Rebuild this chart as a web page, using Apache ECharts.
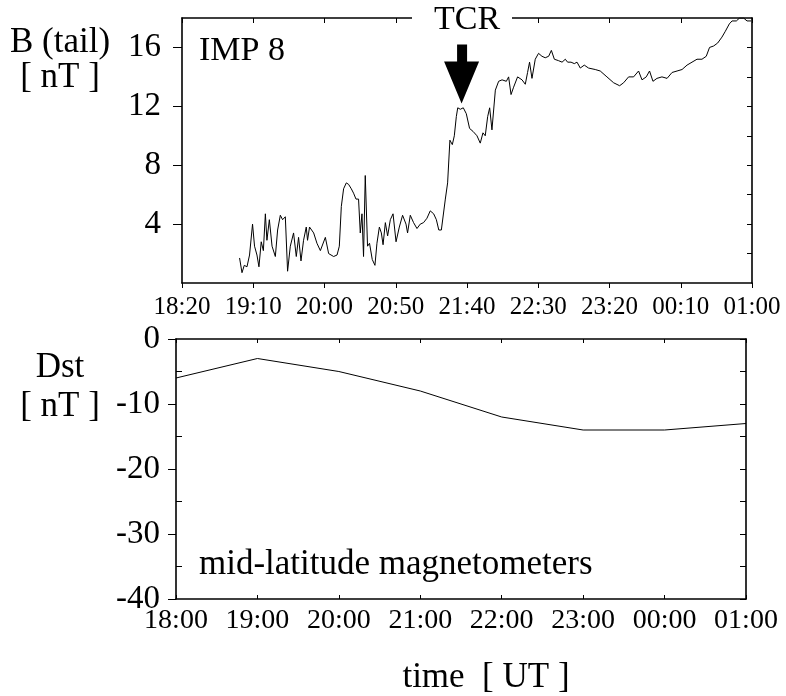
<!DOCTYPE html>
<html>
<head>
<meta charset="utf-8">
<script src="https://cdn.jsdelivr.net/npm/echarts@6/dist/echarts.min.js"></script>
<style>
  html, body { margin: 0; padding: 0; background: #fff; }
  #chart { width: 786px; height: 696px; }
</style>
</head>
<body>
<div id="chart"></div>
<script>
// IMP 8 tail field: time in minutes after 18:00 UT, B in nT
const bTime = [
  60.4, 62.1, 63.7, 65.6, 67.4, 69.5, 70.9, 72.6, 74.0, 75.6,
  77.1, 78.5, 79.6, 81.3, 83.2, 85.5, 87.1, 89.0, 90.6, 92.5,
  94.1, 96.0, 98.3, 100.2, 101.8, 103.5, 105.3, 107.2, 108.1, 109.5,
  112.4, 114.7, 117.1, 120.6, 122.9, 126.4, 128.8, 130.4, 131.8, 133.4,
  135.3, 136.9, 138.8, 140.4, 142.1, 143.9, 145.1, 146.3, 147.4, 148.6,
  150.2, 151.6, 153.5, 155.4, 156.8, 158.5, 159.9, 161.1, 162.7, 164.3,
  166.2, 168.1, 170.2, 172.5, 174.8, 177.2, 178.3, 180.2, 182.5, 184.9,
  187.2, 189.5, 191.9, 194.2, 196.6, 198.5, 200.2, 202.0, 203.4, 204.8,
  206.4, 208.0, 209.7, 211.1, 212.5, 213.5, 215.3, 217.4, 219.5, 221.8,
  224.2, 227.0, 229.3, 231.2, 232.8, 234.5, 235.9, 237.5, 239.9, 242.2,
  244.6, 247.6, 249.2, 250.9, 252.7, 255.5, 258.6, 260.9, 262.5, 263.9,
  265.6, 267.9, 270.2, 272.6, 274.9, 277.3, 279.2, 281.3, 284.3, 286.7,
  289.0, 290.6, 293.0, 295.3, 297.2, 299.5, 302.3, 305.3, 310.0, 313.5,
  318.2, 322.9, 327.1, 329.9, 333.4, 336.9, 340.4, 342.8, 345.8, 348.1,
  350.5, 353.3, 356.8, 360.4, 363.9, 367.4, 370.9, 374.4, 377.9, 381.4,
  384.9, 387.9, 390.2, 393.1, 395.9, 398.9, 401.3, 404.1, 406.0, 409.0,
  411.3, 414.1, 416.5, 419.3
];
const bTail = [
  1.7, 0.7, 1.2, 1.1, 1.9, 4.0, 2.5, 1.9, 1.1, 2.8,
  2.2, 4.7, 2.9, 4.3, 2.5, 1.8, 3.6, 4.6, 4.3, 4.5,
  0.8, 2.5, 3.4, 1.8, 3.1, 1.5, 2.9, 3.8, 2.9, 3.8,
  3.4, 2.7, 2.2, 3.1, 2.0, 1.8, 1.9, 2.5, 5.2, 6.4,
  6.8, 6.7, 6.4, 6.1, 5.7, 5.7, 3.4, 4.7, 1.8, 7.3,
  2.5, 2.7, 1.6, 1.2, 2.7, 3.8, 3.4, 2.6, 4.1, 3.2,
  4.3, 4.7, 2.8, 3.8, 4.6, 4.0, 3.4, 4.6, 4.1, 3.7,
  4.0, 4.1, 4.4, 4.9, 4.7, 4.3, 3.6, 3.6, 3.7, 5.7,
  6.8, 9.7, 9.4, 10.0, 11.3, 11.9, 11.8, 11.9, 11.5, 10.5,
  10.3, 10.0, 9.5, 10.2, 10.0, 11.3, 11.9, 10.4, 13.1, 13.7,
  13.8, 13.7, 14.0, 12.8, 13.3, 14.0, 13.8, 13.5, 14.3, 15.0,
  13.9, 15.2, 15.6, 15.4, 15.3, 15.4, 15.8, 15.2, 15.1, 15.0,
  15.2, 15.0, 15.0, 14.9, 15.0, 14.6, 14.8, 14.6, 14.5, 14.4,
  14.0, 13.6, 13.4, 13.6, 14.0, 14.0, 14.4, 13.8, 14.0, 14.4,
  13.7, 13.9, 14.0, 13.9, 14.3, 14.4, 14.5, 14.8, 15.0, 15.2,
  15.2, 15.4, 16.0, 16.1, 16.3, 16.7, 17.1, 17.6, 17.8, 17.8,
  18.0, 18.0, 17.8, 17.8
];

// Hourly Dst index (minutes after 18:00 UT, nT)
const dstTime = [0, 60, 120, 180, 240, 300, 360, 420];
const dstValue = [-6, -3, -5, -8, -12, -14, -14, -13];

// Tick positions
const bTimeTicks = [20, 70, 120, 170, 220, 270, 320, 370, 420];
const bLabelTicks = [4, 8, 12, 16];
const bRightTicks = [2, 4, 6, 8, 10, 12, 14, 16];
const dstMinorTicks = [-35, -25, -15, -5];

// Onset of the tail current reduction
const tcrTime = 216.2;
const tcrB = 12.2;

const FONT = "'Liberation Serif', 'Times New Roman', serif";
const LINE = { onZero: false, lineStyle: { color: '#000', width: 1.6 } };

function pad(n) { return (n < 10 ? '0' : '') + n; }
function clock(m) {
  const h = (18 + Math.floor(m / 60)) % 24;
  const mm = Math.round(m % 60);
  return pad(h) + ':' + pad(mm);
}

const chart = echarts.init(document.getElementById('chart'), null, { renderer: 'canvas' });

const option = {
  backgroundColor: '#fff',
  animation: false,
  grid: [
    { left: 182, top: 18, width: 570, height: 265 },
    { left: 176, top: 339, width: 570, height: 260 }
  ],
  xAxis: [
    {
      gridIndex: 0, type: 'value', position: 'bottom', min: 20, max: 420,
      axisLine: LINE,
      axisTick: { show: true, inside: false, length: 5, customValues: bTimeTicks, lineStyle: { color: '#000', width: 1 } },
      axisLabel: { customValues: bTimeTicks, formatter: clock, margin: 12, color: '#000', fontFamily: FONT, fontSize: 25 },
      splitLine: { show: false }
    },
    {
      gridIndex: 0, type: 'value', position: 'top', min: 20, max: 420,
      axisLine: LINE,
      axisTick: { show: true, inside: true, length: 5, customValues: bTimeTicks, lineStyle: { color: '#000', width: 1 } },
      axisLabel: { show: false },
      splitLine: { show: false }
    },
    {
      gridIndex: 1, type: 'value', position: 'bottom', min: 0, max: 420, interval: 60,
      axisLine: LINE,
      axisTick: { show: true, inside: true, length: 4, lineStyle: { color: '#000', width: 1 } },
      axisLabel: { formatter: clock, margin: 8, color: '#000', fontFamily: FONT, fontSize: 28 },
      splitLine: { show: false }
    },
    {
      gridIndex: 1, type: 'value', position: 'top', min: 0, max: 420, interval: 60,
      axisLine: LINE,
      axisTick: { show: true, inside: true, length: 4, lineStyle: { color: '#000', width: 1 } },
      axisLabel: { show: false },
      splitLine: { show: false }
    }
  ],
  yAxis: [
    {
      gridIndex: 0, type: 'value', position: 'left', min: 0, max: 18,
      axisLine: LINE,
      axisTick: { show: true, inside: false, length: 9, customValues: bLabelTicks, lineStyle: { color: '#000', width: 1 } },
      axisLabel: { customValues: bLabelTicks, margin: 21, color: '#000', fontFamily: FONT, fontSize: 33 },
      splitLine: { show: false }
    },
    {
      gridIndex: 0, type: 'value', position: 'right', min: 0, max: 18,
      axisLine: LINE,
      axisTick: { show: true, inside: true, length: 5, customValues: bRightTicks, lineStyle: { color: '#000', width: 1 } },
      axisLabel: { show: false },
      splitLine: { show: false }
    },
    {
      gridIndex: 1, type: 'value', position: 'left', min: -40, max: 0, interval: 10,
      axisLine: LINE,
      axisTick: { show: true, inside: false, length: 8, lineStyle: { color: '#000', width: 1 } },
      axisLabel: { margin: 16, color: '#000', fontFamily: FONT, fontSize: 33 },
      splitLine: { show: false }
    },
    {
      gridIndex: 1, type: 'value', position: 'right', min: -40, max: 0, interval: 5,
      axisLine: LINE,
      axisTick: { show: true, inside: true, length: 6, lineStyle: { color: '#000', width: 1 } },
      axisLabel: { show: false },
      splitLine: { show: false }
    },
    {
      gridIndex: 1, type: 'value', position: 'left', offset: 0, min: -40, max: 0,
      axisLine: { show: false, onZero: false },
      axisTick: { show: true, inside: true, length: 6, customValues: dstMinorTicks, lineStyle: { color: '#000', width: 1 } },
      axisLabel: { show: false },
      splitLine: { show: false }
    }
  ],
  series: [
    {
      type: 'line', xAxisIndex: 0, yAxisIndex: 0,
      data: bTime.map((t, i) => [t, bTail[i]]),
      showSymbol: false, silent: true,
      lineStyle: { color: '#000', width: 1 },
      markPoint: {
        silent: true,
        symbol: 'path://M13,0 L23,0 L23,17 L35,17 L17.5,59 L0,17 L13,17 Z',
        symbolSize: [35, 59],
        symbolOffset: [0, -29.5],
        itemStyle: { color: '#000' },
        label: { show: false },
        data: [{ coord: [tcrTime, tcrB] }]
      }
    },
    {
      type: 'line', xAxisIndex: 2, yAxisIndex: 2,
      data: dstTime.map((t, i) => [t, dstValue[i]]),
      showSymbol: false, silent: true,
      lineStyle: { color: '#000', width: 1 }
    }
  ],
  graphic: [
    { type: 'rect', z: 100, shape: { x: 412, y: 8, width: 100, height: 18 }, style: { fill: '#fff' } },
    { type: 'text', z: 101, x: 467, y: 20, style: { text: 'TCR', font: '34px ' + FONT, fill: '#000', align: 'center', verticalAlign: 'middle' } },
    { type: 'text', z: 101, x: 60, y: 43, style: { text: 'B (tail)', font: '35px ' + FONT, fill: '#000', align: 'center', verticalAlign: 'middle' } },
    { type: 'text', z: 101, x: 60, y: 78, style: { text: '[ nT ]', font: '35px ' + FONT, fill: '#000', align: 'center', verticalAlign: 'middle' } },
    { type: 'text', z: 101, x: 199, y: 51, style: { text: 'IMP 8', font: '34px ' + FONT, fill: '#000', align: 'left', verticalAlign: 'middle' } },
    { type: 'text', z: 101, x: 60, y: 368, style: { text: 'Dst', font: '35px ' + FONT, fill: '#000', align: 'center', verticalAlign: 'middle' } },
    { type: 'text', z: 101, x: 60, y: 407, style: { text: '[ nT ]', font: '35px ' + FONT, fill: '#000', align: 'center', verticalAlign: 'middle' } },
    { type: 'text', z: 101, x: 199, y: 565, style: { text: 'mid-latitude magnetometers', font: '35px ' + FONT, fill: '#000', align: 'left', verticalAlign: 'middle' } },
    { type: 'text', z: 101, x: 486, y: 678, style: { text: 'time  [ UT ]', font: '35px ' + FONT, fill: '#000', align: 'center', verticalAlign: 'middle' } }
  ]
};

chart.setOption(option);
</script>
</body>
</html>
